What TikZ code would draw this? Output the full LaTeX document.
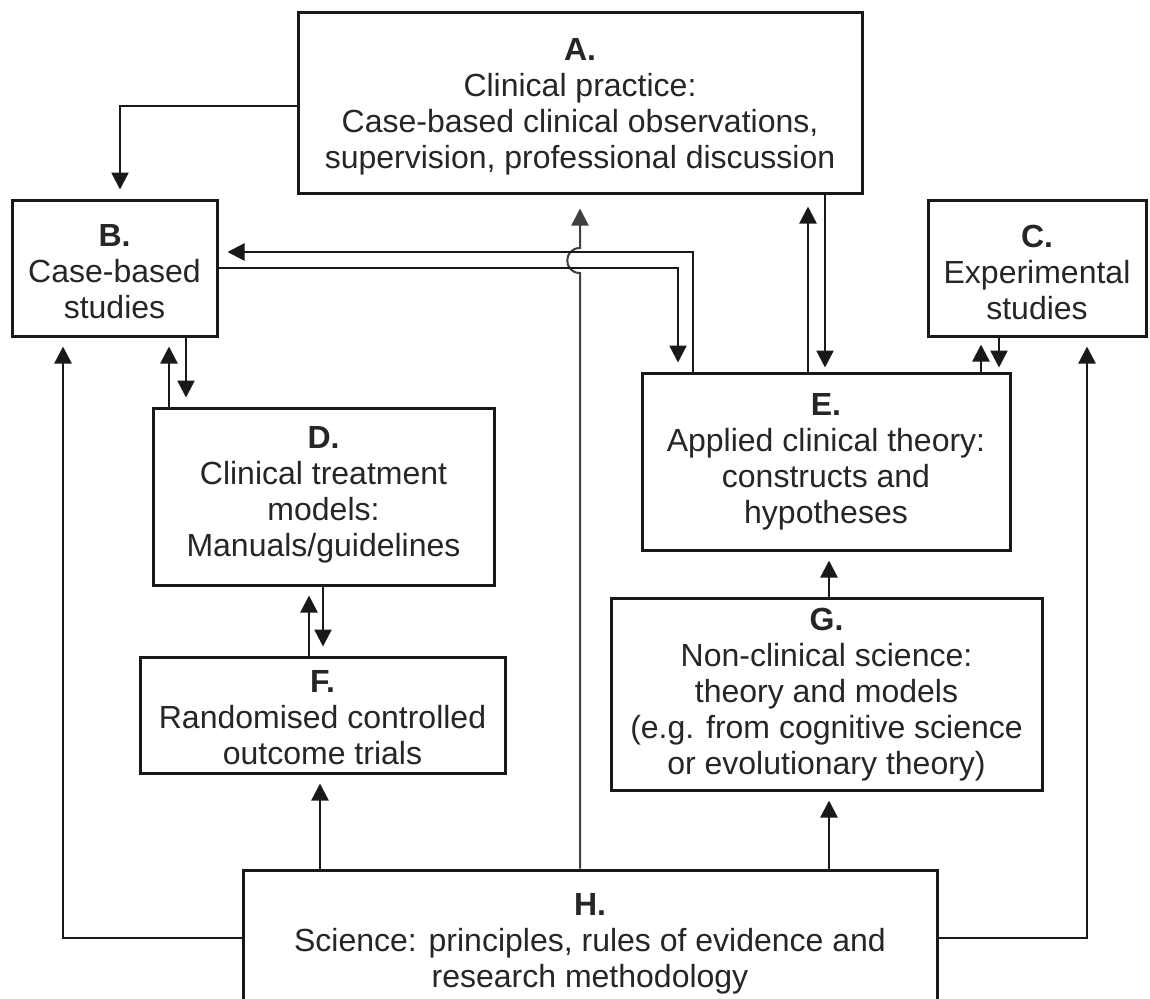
\documentclass[tikz,border=0pt]{standalone}
\usepackage{fontspec}
\setmainfont{Liberation Sans}
\usetikzlibrary{arrows.meta,calc}
\begin{document}
\begin{tikzpicture}[x=0.5pt,y=-0.5pt,
  box/.style={draw=black!90, line width=1.5pt, inner sep=0pt},
  txt/.style={inner sep=0pt, align=center, text=black!85, font=\fontsize{16}{18}\selectfont},
  conn/.style={draw=black!90, line width=1.2pt},
  arr/.style={conn, -{Triangle[width=8.5pt,length=8.5pt]}, shorten >=4.5pt},
  thinconn/.style={draw=black!75, line width=1pt}
]
\clip (0,0) rectangle (1150,998);
\fill[white] (0,0) rectangle (1150,998);

% boxes
\node[box, minimum width=282pt, minimum height=90.5pt] (A) at (580,102.5) {};
\node[box, minimum width=102.5pt, minimum height=68pt] (B) at (114.5,268) {};
\node[box, minimum width=109pt, minimum height=68pt] (C) at (1037,268) {};
\node[box, minimum width=184pt, minimum height=88.5pt] (E) at (826,461.5) {};
\node[box, minimum width=170.5pt, minimum height=88.5pt] (D) at (323.5,496.5) {};
\node[box, minimum width=182.5pt, minimum height=58pt] (F) at (322.5,715) {};
\node[box, minimum width=215.5pt, minimum height=96pt] (G) at (826.5,694) {};
\node[box, minimum width=347pt, minimum height=70pt] (H) at (590,940) {};

% texts
\node[txt] (At) at ($(A.center)+(0,4)$)
  {\textbf{A.}\\Clinical practice:\\Case-based clinical observations,\\supervision, professional discussion};
\node[txt] (Bt) at ($(B.center)+(0,4)$) {\textbf{B.}\\Case-based\\studies};
\node[txt] (Ct) at ($(C.center)+(0,4)$) {\textbf{C.}\\Experimental\\studies};
\node[txt] (Et) at ($(E.center)+(0,0)$)
  {\textbf{E.}\\Applied clinical theory:\\constructs and\\hypotheses};
\node[txt] (Dt) at ($(D.center)+(0,-2)$)
  {\textbf{D.}\\Clinical treatment\\models:\\Manuals/guidelines};
\node[txt] (Ft) at ($(F.center)+(0,3)$) {\textbf{F.}\\Randomised controlled\\outcome trials};
\node[txt] (Gt) at ($(G.center)+(0,1)$)
  {\textbf{G.}\\Non-clinical science:\\theory and models\\(e.g. from cognitive science\\or evolutionary theory)};
\node[txt] (Ht) at ($(H.center)+(0,4)$)
  {\textbf{H.}\\Science: principles, rules of evidence and\\research methodology};

% helper coordinates
\coordinate (yA) at (0,106);
\coordinate (xAB) at (120,0);
\coordinate (yup) at (0,252);
\coordinate (ylow) at (0,268);
\coordinate (xEBu) at (693,0);
\coordinate (xBEd) at (678,0);
\coordinate (hopB) at (580,273);
\coordinate (hopT) at (580,248);
\coordinate (xAEu) at (808,0);
\coordinate (xAEd) at (825,0);
\coordinate (xECu) at (981,0);
\coordinate (xECd) at (999,0);
\coordinate (xBDu) at (169,0);
\coordinate (xBDd) at (186,0);
\coordinate (xDFu) at (309,0);
\coordinate (xDFd) at (323,0);
\coordinate (xHF) at (320,0);
\coordinate (xHG) at (829,0);
\coordinate (yH) at (0,938);
\coordinate (xHB) at (63,0);
\coordinate (xHC) at (1087,0);

% A -> B
\draw[arr] (A.west |- yA) -- (xAB |- yA) -- (xAB |- B.north);
% H -> A with hop
\draw[thinconn, -{Triangle[width=8.5pt,length=8.5pt]}, shorten >=7pt]
  (A.south |- H.north) -- (hopB) .. controls ($(hopB)+(-17,0)$) and ($(hopT)+(-17,0)$) .. (hopT) -- (A.south);
% E -> B (upper)
\draw[arr] (xEBu |- E.north) -- (xEBu |- yup) -- (B.east |- yup);
% B -> E (lower)
\draw[arr] (B.east |- ylow) -- (xBEd |- ylow) -- (xBEd |- E.north);
% A <-> E
\draw[arr, shorten >=6pt] (xAEu |- E.north) -- (xAEu |- A.south);
\draw[arr, shorten >=2pt] (xAEd |- A.south) -- (xAEd |- E.north);
% E <-> C
\draw[arr, shorten >=3.5pt] (xECu |- E.north) -- (xECu |- C.south);
\draw[arr, shorten >=2pt] (xECd |- C.south) -- (xECd |- E.north);
% B <-> D
\draw[arr] (xBDu |- D.north) -- (xBDu |- B.south);
\draw[arr] (xBDd |- B.south) -- (xBDd |- D.north);
% D <-> F
\draw[arr] (xDFu |- F.north) -- (xDFu |- D.south);
\draw[arr] (xDFd |- D.south) -- (xDFd |- F.north);
% H -> F, H -> G, G -> E
\draw[arr] (xHF |- H.north) -- (xHF |- F.south);
\draw[arr] (xHG |- H.north) -- (xHG |- G.south);
\draw[arr] (xHG |- G.north) -- (xHG |- E.south);
% H -> B, H -> C
\draw[arr] (H.west |- yH) -- (xHB |- yH) -- (xHB |- B.south);
\draw[arr] (H.east |- yH) -- (xHC |- yH) -- (xHC |- C.south);
\end{tikzpicture}
\end{document}
